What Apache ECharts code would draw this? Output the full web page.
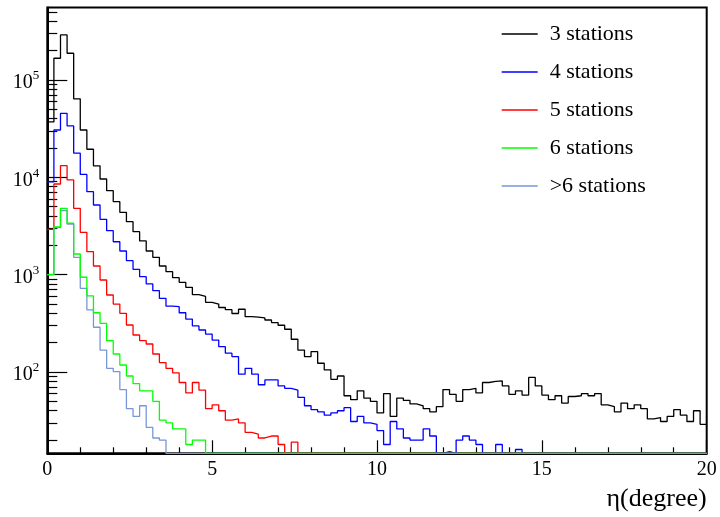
<!DOCTYPE html>
<html><head><meta charset="utf-8">
<script src="https://cdn.jsdelivr.net/npm/echarts@6/dist/echarts.min.js"></script>
<style>html,body{margin:0;padding:0;background:#fff}#c{width:720px;height:517px}</style>
</head><body><div id="c"></div>
<script>
// ---- data ----
const seriesNames = ['3 stations', '4 stations', '5 stations', '6 stations', '>6 stations'];
const seriesColors = ['#000000', '#0000ff', '#ff0000', '#00ff00', '#7896d8'];
const xMin = 0, xMax = 20, binWidth = 0.2;
const xTickLabels = [0, 5, 10, 15, 20];
const yMajorTicks = [100, 1000, 10000, 100000];
const yMinorTicks = [20,30,40,50,60,70,80,90,200,300,400,500,600,700,800,900,
  2000,3000,4000,5000,6000,7000,8000,9000,20000,30000,40000,50000,60000,70000,80000,90000,
  200000,300000,400000,500000];
const xTitle = 'η(degree)';

const st3 = [37000,167000,290000,188000,64000,30600,19400,13100,9600,7280,
  5610,4365,3500,2760,2218,1750,1507,1227,1072,931,
  834,741,622,599,520,499,460,437,399,441,
  370,367,359,342,322,302,275,217,168,144,
  162,123,105,84,91,57,52,64,54,50,
  38,60,35,54,51,47,45,42,39,44,
  66,59,50,66,68,61,78,80,81,72,
  59,64,58,88,72,58,52,57,48,56,
  57,60,57,60,46,44,39,48,42,46,
  42,33,34,31,35,41,36,31,40,29];
const st4 = [9000,30600,45400,33700,17700,10700,7110,5190,3700,2826,
  2178,1750,1391,1135,953,802,684,571,476,469,
  406,350,297,270,245,213,182,156,144,95,
  109,95,74,83,83,72,68,65,55,45,
  41,39,36,38,40,43,31,35,30,29,
  25,18,31,26,21,20,20,26,22,0,
  15.2,0,20,22,20,18,0,0,18,0,
  0,16,0,0,0,0,0,0,0,0,
  0,0,0,0,0,0,0,0,0,0,
  0,0,0,0,0,0,0,0,0,0];
const st5 = [2920,8530,13150,9400,4800,2720,1722,1227,881,618,
  499,401,304,240,210,194,153,125,109,98,
  78,61,78,65,42,46,40,32,33,30,
  24,23,21,22,22,18,0,19,0,0,
  0,0,0,0,0,0,0,0,0,0,
  0,0,0,0,0,0,0,0,0,0,
  0,0,0,0,0,0,0,0,0,0,
  0,0,0,0,0,0,0,0,0,0,
  0,0,0,0,0,0,0,0,0,0,
  0,0,0,0,0,0,0,0,0,0];
const st6 = [1000,3100,4800,3370,1630,940,604,406,316,210,
  153,118,91,76,64,64,50,32,30,26,
  26,18,20,20,0,0,0,0,0,0,
  0,0,0,0,0,0,0,0,0,0,
  0,0,0,0,0,0,0,0,0,0,
  0,0,0,0,0,0,0,0,0,0,
  0,0,0,0,0,0,0,0,0,0,
  0,0,0,0,0,0,0,0,0,0,
  0,0,0,0,0,0,0,0,0,0,
  0,0,0,0,0,0,0,0,0,0];
const st7 = [1000,3050,4540,3310,1507,724,434,288,168,109,
  101,66,42,35,45,27,21,20,0,0,
  0,0,0,0,0,0,0,0,0,0,
  0,0,0,0,0,0,0,0,0,0,
  0,0,0,0,0,0,0,0,0,0,
  0,0,0,0,0,0,0,0,0,0,
  0,0,0,0,0,0,0,0,0,0,
  0,0,0,0,0,0,0,0,0,0,
  0,0,0,0,0,0,0,0,0,0,
  0,0,0,0,0,0,0,0,0,0];
const allSeries = [st3, st4, st5, st6, st7];

// ---- chart ----
const yMin = 14.62, yMax = 554500;
const FONT = 'Liberation Serif';

function toSteps(vals) {
  const d = vals.map((v, i) => [+(xMin + i * binWidth).toFixed(3), v > 0 ? v : yMin]);
  d.push([xMax, d[d.length - 1][1]]);
  return d;
}
const zOrder = [2, 3, 4, 6, 5];

const chart = echarts.init(document.getElementById('c'), null, {renderer: 'canvas'});
chart.setOption({
  animation: false,
  backgroundColor: '#fff',
  grid: {left: 47.3, right: 13.3, top: 7.5, bottom: 63.7, show: true, borderColor: '#000', borderWidth: 2, backgroundColor: 'transparent'},
  legend: {
    orient: 'vertical', left: 501.7, top: 22, padding: 0, itemWidth: 36, itemHeight: 1.5, itemGap: 14,
    icon: 'rect',
    data: seriesNames,
    textStyle: {fontFamily: FONT, fontSize: 22, lineHeight: 24, color: '#000', padding: [0, 0, 0, 7]}
  },
  xAxis: {
    type: 'value', min: xMin, max: xMax, interval: 5,
    axisLine: {show: true, onZero: false, lineStyle: {color: '#000', width: 2}},
    axisTick: {show: true, inside: true, length: 13, lineStyle: {color: '#000', width: 1.2}},
    minorTick: {show: true, splitNumber: 5, length: 6, lineStyle: {color: '#000', width: 1.2}},
    axisLabel: {fontFamily: FONT, fontSize: 20, color: '#000', margin: 6, customValues: xTickLabels},
    splitLine: {show: false},
    name: xTitle, nameLocation: 'end', nameGap: 0,
    nameTextStyle: {fontFamily: FONT, fontSize: 26, color: '#000', align: 'right', verticalAlign: 'top', padding: [33, 0, 0, 0]}
  },
  yAxis: [{
    type: 'log', logBase: 10, min: yMin, max: yMax,
    axisLine: {show: true, lineStyle: {color: '#000', width: 2}},
    axisTick: {show: true, inside: true, length: 20, customValues: yMajorTicks, lineStyle: {color: '#000', width: 1.2}},
    axisLabel: {
      customValues: yMajorTicks, margin: 8,
      formatter: v => '{b|10}{s|' + Math.round(Math.log10(v)) + '}',
      rich: {
        b: {fontFamily: FONT, fontSize: 20, color: '#000', padding: [6, 0, 0, 0]},
        s: {fontFamily: FONT, fontSize: 13, color: '#000', padding: [0, 0, 8, 0]}
      }
    },
    splitLine: {show: false}
  }, {
    type: 'log', logBase: 10, min: yMin, max: yMax, position: 'left',
    axisLine: {show: false},
    axisTick: {show: true, inside: true, length: 10, customValues: yMinorTicks, lineStyle: {color: '#000', width: 1.2}},
    axisLabel: {show: false},
    splitLine: {show: false}
  }],
  series: allSeries.map((vals, k) => ({
    name: seriesNames[k], type: 'line', step: 'end', symbol: 'none', showSymbol: false,
    z: zOrder[k], clip: true,
    lineStyle: {color: seriesColors[k], width: 1.3},
    itemStyle: {color: seriesColors[k]},
    data: toSteps(vals)
  }))
});
</script></body></html>
